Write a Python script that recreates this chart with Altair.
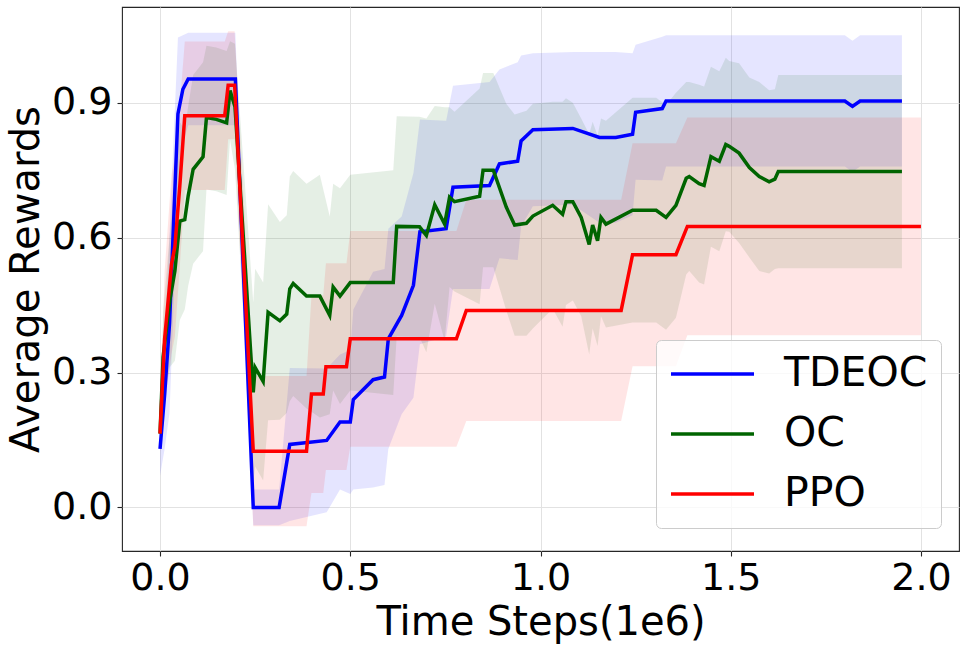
import altair as alt
import pandas as pd

series_names = ["TDEOC", "OC", "PPO"]
series_colors = ["#0000ff", "#006400", "#ff0000"]

x_ticks = [0.0, 0.5, 1.0, 1.5, 2.0]
y_ticks = [0.0, 0.3, 0.6, 0.9]

tdeoc_x = [0.000, 0.012, 0.025, 0.047, 0.060, 0.074, 0.198, 0.245, 0.313, 0.341,
           0.438, 0.473, 0.500, 0.508, 0.560, 0.590, 0.600, 0.635, 0.666, 0.683,
           0.752, 0.770, 0.866, 0.892, 0.940, 0.949, 0.980, 1.085, 1.155, 1.198,
           1.242, 1.250, 1.320, 1.330, 1.800, 1.820, 1.840, 1.950]
tdeoc_mean = [0.13, 0.25, 0.41, 0.875, 0.93, 0.953, 0.953, 0.0, 0.0, 0.14,
              0.149, 0.19, 0.19, 0.24, 0.284, 0.29, 0.375, 0.427, 0.494, 0.613,
              0.62, 0.712, 0.716, 0.764, 0.77, 0.815, 0.84, 0.843, 0.823, 0.823,
              0.83, 0.879, 0.887, 0.904, 0.904, 0.892, 0.904, 0.904]
tdeoc_sd = [0.06, 0.12, 0.2, 0.17, 0.12, 0.103, 0.103, 0.04, 0.04, 0.17,
            0.16, 0.15, 0.16, 0.2, 0.24, 0.24, 0.245, 0.22, 0.25, 0.25,
            0.24, 0.226, 0.23, 0.21, 0.22, 0.19, 0.17, 0.17, 0.19, 0.19,
            0.18, 0.15, 0.16, 0.146, 0.146, 0.146, 0.146, 0.146]

oc_x = [0.000, 0.008, 0.026, 0.039, 0.052, 0.065, 0.074, 0.087, 0.113, 0.122,
        0.148, 0.175, 0.184, 0.197, 0.245, 0.250, 0.271, 0.284, 0.315, 0.333,
        0.341, 0.350, 0.385, 0.420, 0.446, 0.455, 0.473, 0.500, 0.613, 0.622,
        0.682, 0.700, 0.722, 0.748, 0.761, 0.774, 0.840, 0.849, 0.876, 0.910,
        0.932, 0.963, 0.980, 1.032, 1.058, 1.067, 1.085, 1.107, 1.128, 1.137,
        1.150, 1.159, 1.172, 1.242, 1.304, 1.330, 1.356, 1.383, 1.391, 1.417,
        1.430, 1.448, 1.470, 1.487, 1.496, 1.522, 1.549, 1.575, 1.601, 1.616,
        1.625, 1.950]
oc_mean = [0.164, 0.335, 0.462, 0.526, 0.637, 0.64, 0.693, 0.752, 0.78, 0.867,
           0.863, 0.855, 0.927, 0.891, 0.256, 0.311, 0.28, 0.434, 0.415, 0.43,
           0.486, 0.498, 0.47, 0.47, 0.427, 0.49, 0.47, 0.5, 0.5, 0.625,
           0.624, 0.605, 0.673, 0.63, 0.69, 0.68, 0.692, 0.75, 0.75, 0.668,
           0.628, 0.632, 0.648, 0.672, 0.652, 0.68, 0.68, 0.645, 0.585, 0.628,
           0.593, 0.645, 0.63, 0.661, 0.661, 0.645, 0.672, 0.732, 0.736, 0.72,
           0.716, 0.78, 0.77, 0.807, 0.803, 0.788, 0.756, 0.736, 0.724, 0.73,
           0.747, 0.747]
oc_sd = [0.03, 0.1, 0.15, 0.2, 0.22, 0.2, 0.2, 0.21, 0.21, 0.16,
         0.16, 0.16, 0.11, 0.14, 0.2, 0.22, 0.22, 0.24, 0.22, 0.22,
         0.25, 0.25, 0.25, 0.27, 0.22, 0.23, 0.24, 0.24, 0.25, 0.245,
         0.245, 0.26, 0.22, 0.26, 0.2, 0.2, 0.24, 0.216, 0.216, 0.23,
         0.246, 0.25, 0.25, 0.23, 0.25, 0.23, 0.22, 0.22, 0.245, 0.23,
         0.234, 0.22, 0.23, 0.25, 0.25, 0.25, 0.25, 0.214, 0.21, 0.22,
         0.22, 0.2, 0.2, 0.193, 0.19, 0.2, 0.2, 0.21, 0.204, 0.2,
         0.215, 0.215]

ppo_x = [0.000, 0.012, 0.030, 0.039, 0.052, 0.065, 0.170, 0.179, 0.196, 0.245,
         0.385, 0.398, 0.429, 0.436, 0.490, 0.500, 0.779, 0.805, 1.212, 1.242,
         1.356, 1.386, 2.000]
ppo_mean = [0.164, 0.375, 0.54, 0.58, 0.716, 0.871, 0.871, 0.939, 0.939, 0.125,
            0.125, 0.252, 0.252, 0.313, 0.313, 0.375, 0.375, 0.438, 0.438, 0.562,
            0.562, 0.625, 0.625]
ppo_sd = [0.04, 0.15, 0.2, 0.2, 0.18, 0.165, 0.165, 0.12, 0.12, 0.167,
          0.167, 0.22, 0.22, 0.23, 0.23, 0.24, 0.24, 0.246, 0.246, 0.248,
          0.248, 0.242, 0.242]

rows = []
for name, xs_, ms_, sds_ in [("TDEOC", tdeoc_x, tdeoc_mean, tdeoc_sd),
                             ("OC", oc_x, oc_mean, oc_sd),
                             ("PPO", ppo_x, ppo_mean, ppo_sd)]:
    for i, (x, m, s) in enumerate(zip(xs_, ms_, sds_)):
        rows.append({"series": name, "x": x, "i": i, "mean": m,
                     "lower": m - s, "upper": m + s})
df = pd.DataFrame(rows)

FONT = "DejaVu Sans"
x_scale = alt.Scale(domain=[-0.1, 2.1], nice=False, zero=False)
y_scale = alt.Scale(domain=[-0.097, 1.113], nice=False, zero=False)
color_scale = alt.Scale(domain=series_names, range=series_colors)

x_axis = alt.Axis(values=x_ticks, format=".1f", title="Time Steps(1e6)",
                  titlePadding=5, labelPadding=3)
y_axis = alt.Axis(values=y_ticks, format=".1f", title="Average Rewards",
                  titlePadding=5, labelPadding=5)

legend = alt.Legend(title=None, orient="none", legendX=534, legendY=333,
                    padding=13, fillColor="rgba(255,255,255,0.8)",
                    strokeColor="#cccccc", cornerRadius=5,
                    symbolType="stroke", symbolSize=6889,
                    symbolStrokeWidth=3.5, labelFontSize=41, labelFont=FONT,
                    labelOffset=28, clipHeight=42, rowPadding=18,
                    labelColor="black", symbolOpacity=1)

base = alt.Chart(df)

layers = []
for name in series_names:
    layers.append(
        base.transform_filter(alt.datum.series == name).mark_area(
            fillOpacity=0.1, interpolate="linear").encode(
            x=alt.X("x:Q", scale=x_scale, axis=x_axis),
            y=alt.Y("lower:Q", scale=y_scale, axis=y_axis, stack=None),
            y2="upper:Q",
            color=alt.Color("series:N", scale=color_scale, legend=legend),
        )
    )
for name in series_names:
    layers.append(
        base.transform_filter(alt.datum.series == name).mark_line(strokeWidth=3.5).encode(
            x=alt.X("x:Q", scale=x_scale, axis=x_axis),
            y=alt.Y("mean:Q", scale=y_scale, axis=y_axis),
            color=alt.Color("series:N", scale=color_scale, legend=legend),
            order="i:Q",
        )
    )

chart = alt.layer(*layers).properties(
    width=837, height=544,
    background="white",
    autosize=alt.AutoSizeParams(type="none"),
    padding={"left": 122, "top": 7, "right": 7, "bottom": 98},
).configure_view(
    stroke="#262626", strokeWidth=1.1
).configure_axis(
    domain=False, grid=True, gridColor="#e2e2e2", gridWidth=1,
    tickColor="#262626", tickSize=5, tickWidth=1.1,
    labelFont=FONT, titleFont=FONT, labelFontSize=38, titleFontSize=40,
    titleFontWeight="normal", labelColor="black", titleColor="black",
)

chart.save("out.html", embed_options={"renderer": "svg", "actions": False})
